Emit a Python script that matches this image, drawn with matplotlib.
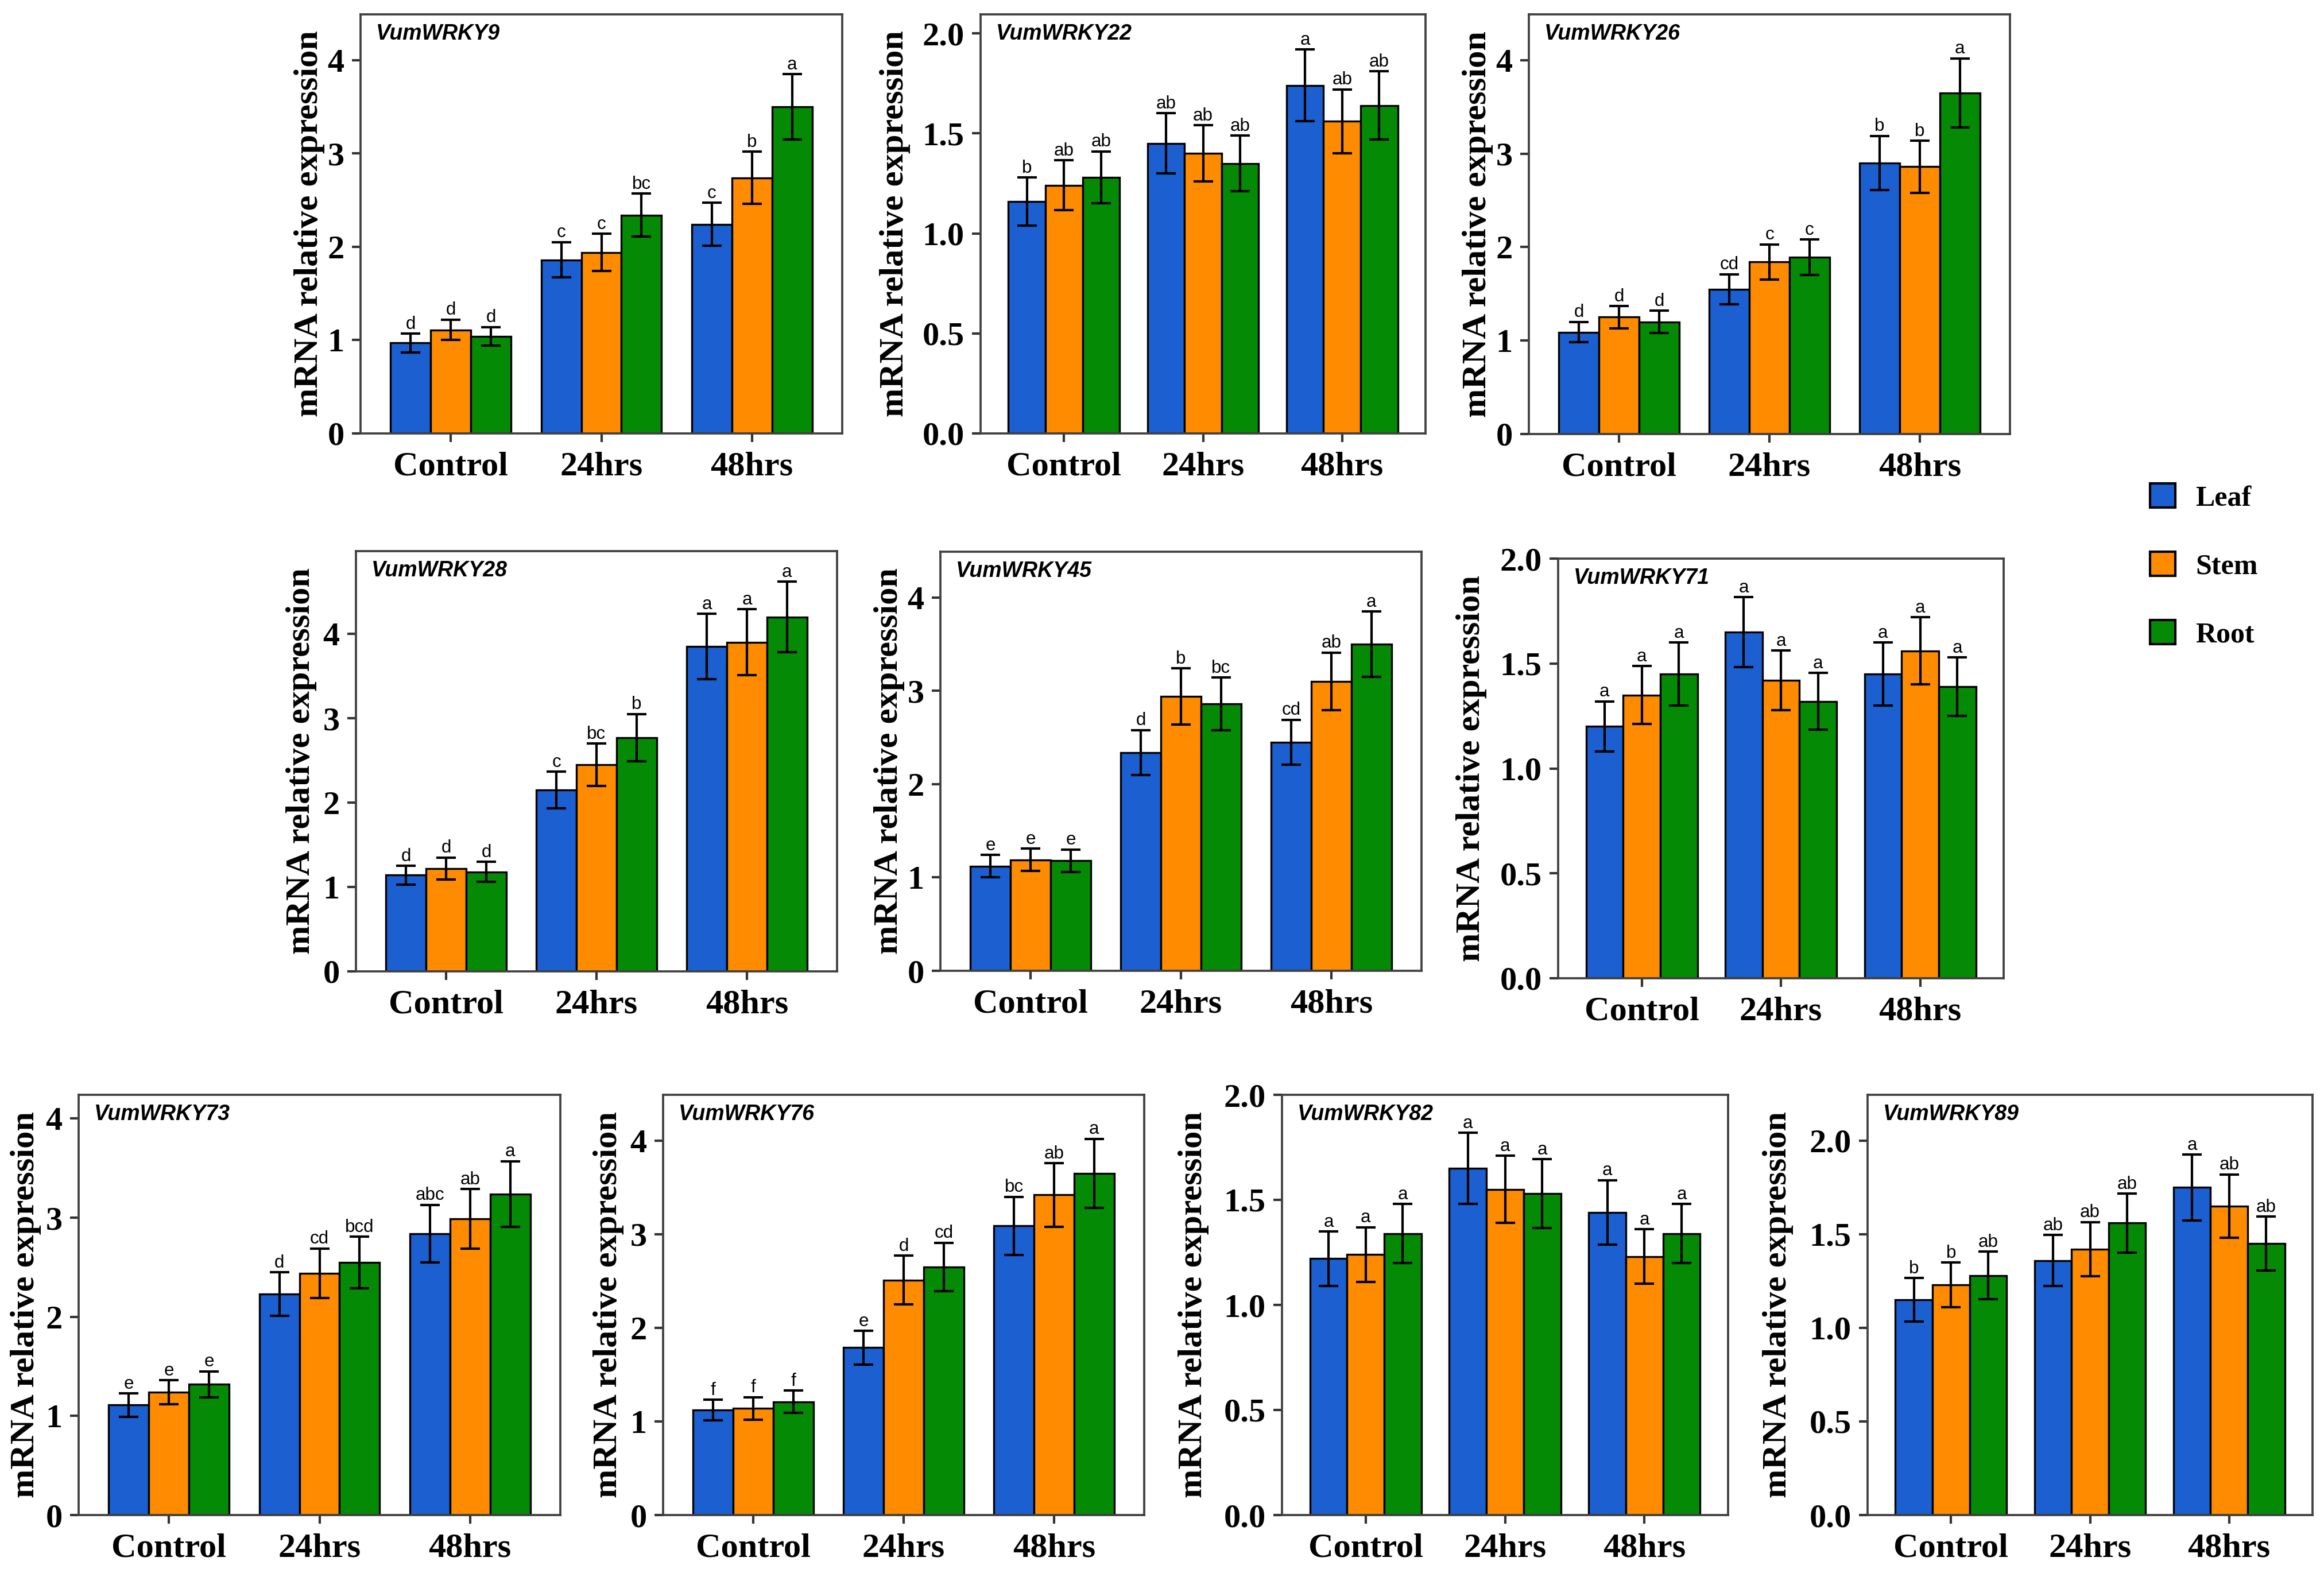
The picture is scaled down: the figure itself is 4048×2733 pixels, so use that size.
import numpy as np
import matplotlib.pyplot as plt
from matplotlib.patches import Patch

W, H = 4048, 2733
DPI = 300

groups = ["Control", "24hrs", "48hrs"]
tissues = ["Leaf", "Stem", "Root"]
colors = ["#1b5fd0", "#ff8c00", "#058a05"]

# values: rows = Leaf, Stem, Root ; columns = Control, 24hrs, 48hrs
wrky9_mean = [[0.97, 1.86, 2.24], [1.11, 1.94, 2.74], [1.04, 2.34, 3.50]]
wrky9_err = [[0.10, 0.19, 0.23], [0.11, 0.20, 0.28], [0.10, 0.23, 0.35]]
wrky9_sig = [["d", "c", "c"], ["d", "c", "b"], ["d", "bc", "a"]]

wrky22_mean = [[1.16, 1.45, 1.74], [1.24, 1.40, 1.56], [1.28, 1.35, 1.64]]
wrky22_err = [[0.12, 0.15, 0.18], [0.125, 0.14, 0.16], [0.13, 0.14, 0.17]]
wrky22_sig = [["b", "ab", "a"], ["ab", "ab", "ab"], ["ab", "ab", "ab"]]

wrky26_mean = [[1.09, 1.55, 2.90], [1.25, 1.84, 2.86], [1.20, 1.89, 3.65]]
wrky26_err = [[0.11, 0.16, 0.29], [0.12, 0.19, 0.28], [0.12, 0.19, 0.37]]
wrky26_sig = [["d", "cd", "b"], ["d", "c", "b"], ["d", "c", "a"]]

wrky28_mean = [[1.14, 2.15, 3.85], [1.22, 2.45, 3.90], [1.18, 2.77, 4.20]]
wrky28_err = [[0.11, 0.215, 0.39], [0.13, 0.25, 0.39], [0.12, 0.28, 0.42]]
wrky28_sig = [["d", "c", "a"], ["d", "bc", "a"], ["d", "b", "a"]]

wrky45_mean = [[1.12, 2.34, 2.45], [1.19, 2.94, 3.10], [1.18, 2.86, 3.50]]
wrky45_err = [[0.12, 0.24, 0.24], [0.12, 0.30, 0.31], [0.12, 0.28, 0.35]]
wrky45_sig = [["e", "d", "cd"], ["e", "b", "ab"], ["e", "bc", "a"]]

wrky71_mean = [[1.20, 1.65, 1.45], [1.35, 1.42, 1.56], [1.45, 1.32, 1.39]]
wrky71_err = [[0.12, 0.167, 0.15], [0.138, 0.142, 0.16], [0.15, 0.135, 0.14]]
wrky71_sig = [["a", "a", "a"], ["a", "a", "a"], ["a", "a", "a"]]

wrky73_mean = [[1.11, 2.23, 2.84], [1.24, 2.44, 2.99], [1.32, 2.55, 3.24]]
wrky73_err = [[0.117, 0.22, 0.29], [0.12, 0.25, 0.30], [0.13, 0.26, 0.33]]
wrky73_sig = [["e", "d", "abc"], ["e", "cd", "ab"], ["e", "bcd", "a"]]

wrky76_mean = [[1.12, 1.79, 3.09], [1.14, 2.51, 3.42], [1.21, 2.65, 3.65]]
wrky76_err = [[0.11, 0.18, 0.31], [0.12, 0.26, 0.34], [0.12, 0.26, 0.37]]
wrky76_sig = [["f", "e", "bc"], ["f", "d", "ab"], ["f", "cd", "a"]]

wrky82_mean = [[1.22, 1.65, 1.44], [1.24, 1.55, 1.23], [1.34, 1.53, 1.34]]
wrky82_err = [[0.13, 0.17, 0.154], [0.13, 0.16, 0.13], [0.14, 0.163, 0.14]]
wrky82_sig = [["a", "a", "a"], ["a", "a", "a"], ["a", "a", "a"]]

wrky89_mean = [[1.15, 1.36, 1.75], [1.23, 1.42, 1.65], [1.28, 1.56, 1.45]]
wrky89_err = [[0.116, 0.136, 0.176], [0.12, 0.145, 0.17], [0.128, 0.157, 0.145]]
wrky89_sig = [["b", "ab", "a"], ["b", "ab", "ab"], ["ab", "ab", "ab"]]

# layout: axes box in pixels (left, top, right, bottom), y limit, top tick, tick step, ylabel offset
panels = [
    ("VumWRKY9", wrky9_mean, wrky9_err, wrky9_sig, (628, 25, 1467, 755), 4.49, 4, 1, -89),
    ("VumWRKY22", wrky22_mean, wrky22_err, wrky22_sig, (1708, 25, 2483, 755), 2.095, 2.0, 0.5, -149),
    ("VumWRKY26", wrky26_mean, wrky26_err, wrky26_sig, (2663, 25, 3501, 756), 4.49, 4, 1, -89),
    ("VumWRKY28", wrky28_mean, wrky28_err, wrky28_sig, (620, 960, 1458, 1692), 4.98, 4, 1, -95),
    ("VumWRKY45", wrky45_mean, wrky45_err, wrky45_sig, (1638, 961, 2476, 1691), 4.49, 4, 1, -89),
    ("VumWRKY71", wrky71_mean, wrky71_err, wrky71_sig, (2714, 973, 3490, 1704), 2.0, 2.0, 0.5, -151),
    ("VumWRKY73", wrky73_mean, wrky73_err, wrky73_sig, (137, 1907, 976, 2639), 4.24, 4, 1, -92),
    ("VumWRKY76", wrky76_mean, wrky76_err, wrky76_sig, (1155, 1907, 1993, 2639), 4.49, 4, 1, -95),
    ("VumWRKY82", wrky82_mean, wrky82_err, wrky82_sig, (2233, 1907, 3010, 2639), 2.0, 2.0, 0.5, -154),
    ("VumWRKY89", wrky89_mean, wrky89_err, wrky89_sig, (3253, 1907, 4028, 2639), 2.245, 2.0, 0.5, -156),
]

SERIF = "Liberation Serif"
SANS = "Liberation Sans"


def draw_panel(fig, name, mean, err, sig, box, ylim, ytop, ystep, lab_off):
    left, top, right, bottom = box
    wpx = right - left
    ax = fig.add_axes([left / W, 1 - bottom / H, wpx / W, (bottom - top) / H])
    x = np.arange(1, len(groups) + 1)
    bw = 0.8 / len(tissues)
    for i in range(len(tissues)):
        xs = x + (i - 1) * bw
        ax.bar(xs, mean[i], bw, color=colors[i], edgecolor="black",
               linewidth=0.8, zorder=2)
        ax.errorbar(xs, mean[i], yerr=err[i], fmt="none", ecolor="black",
                    elinewidth=1.0, capsize=4, capthick=1.0, zorder=3)
        for xx, m, e, s in zip(xs, mean[i], err[i], sig[i]):
            ax.annotate(s, (xx, m + e), xytext=(0, 0.3), textcoords="offset points",
                        ha="center", va="bottom", fontsize=7.5, family=SANS)

    ax.set_xlim(0.4, 3.6)
    ax.set_ylim(0, ylim)
    ax.set_xticks(x)
    ax.set_xticklabels(groups)
    ticks = np.arange(0, ytop + 1e-9, ystep)
    ax.set_yticks(ticks)
    if ystep < 1:
        ax.set_yticklabels(["%.1f" % t for t in ticks])
    else:
        ax.set_yticklabels(["%d" % t for t in ticks])

    for lab in ax.get_xticklabels():
        lab.set_fontfamily(SERIF)
        lab.set_fontweight("bold")
        lab.set_fontsize(14.5)
    for lab in ax.get_yticklabels():
        lab.set_fontfamily(SERIF)
        lab.set_fontweight("bold")
        lab.set_fontsize(14)

    ax.tick_params(axis="both", direction="out", length=3.6, width=1.0, color="#333333")
    ax.tick_params(axis="x", pad=4)
    ax.tick_params(axis="y", pad=3.2)
    for sp in ax.spines.values():
        sp.set_color("#404040")
        sp.set_linewidth(0.9)

    ax.set_ylabel("mRNA relative expression", fontsize=14.5, fontweight="bold", family=SERIF)
    ax.yaxis.label.set_va("center")
    ax.yaxis.set_label_coords(lab_off / wpx, 0.5)

    ax.text(27 / wpx, 1 - 16 / (bottom - top), name, transform=ax.transAxes,
            ha="left", va="top", fontsize=9, fontweight="bold", style="italic", family=SANS)
    return ax


fig = plt.figure(figsize=(W / DPI, H / DPI), dpi=DPI)
fig.patch.set_facecolor("white")

for p in panels:
    draw_panel(fig, *p)

handles = [Patch(facecolor=c, edgecolor="black", linewidth=1.0) for c in colors]
fig.legend(handles, tissues, loc="upper left", bbox_to_anchor=(3745 / W, 1 - 842 / H),
           frameon=False, prop={"family": SERIF, "weight": "bold", "size": 12},
           handlelength=0.88, handleheight=0.9, handletextpad=0.7, labelspacing=1.4,
           borderpad=0, borderaxespad=0)

fig.savefig("out.png", dpi=DPI)
